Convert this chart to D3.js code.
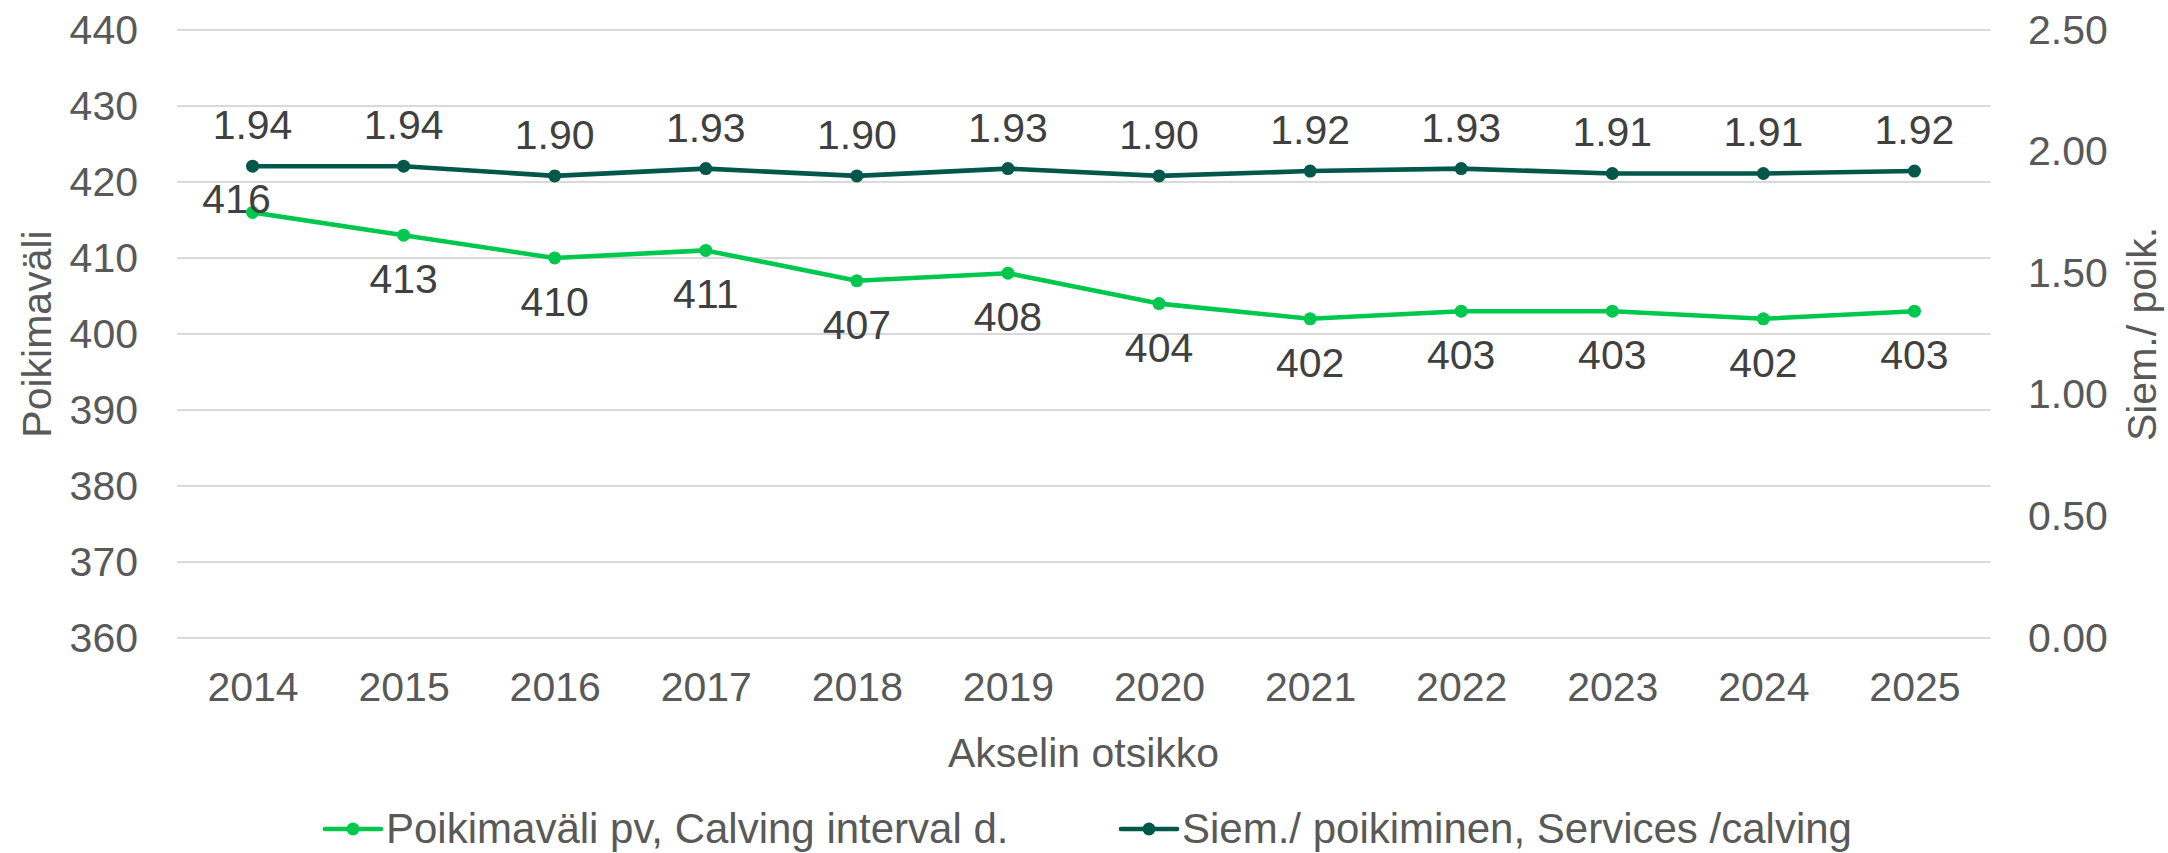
<!DOCTYPE html>
<html>
<head>
<meta charset="utf-8">
<script src="https://cdn.jsdelivr.net/npm/d3@7"></script>
<style>
  html, body { margin: 0; padding: 0; background: #fff; }
  svg { display: block; font-family: "Liberation Sans", Arial, sans-serif; }
</style>
</head>
<body>
<svg id="chart" width="2168" height="853"></svg>
<script>
// ---- data ----
const years = ["2014","2015","2016","2017","2018","2019","2020","2021","2022","2023","2024","2025"];
const calvingInterval = [416, 413, 410, 411, 407, 408, 404, 402, 403, 403, 402, 403];
const servicesPerCalving = [1.94, 1.94, 1.90, 1.93, 1.90, 1.93, 1.90, 1.92, 1.93, 1.91, 1.91, 1.92];
const leftTicks = [360, 370, 380, 390, 400, 410, 420, 430, 440];
const rightTicks = [0, 0.5, 1.0, 1.5, 2.0, 2.5];
const seriesNames = ["Poikimaväli pv, Calving interval d.", "Siem./ poikiminen, Services /calving"];
const xTitle = "Akselin otsikko";
const yLeftTitle = "Poikimaväli";
const yRightTitle = "Siem./ poik.";

// ---- style ----
const colLight = "#00C84F";
const colDark = "#00574A";
const axisText = "#595959";
const labelText = "#404040";
const gridCol = "#D9D9D9";
const fs = 41;

const svg = d3.select("#chart");
const plot = {left: 177, right: 1990, top: 30, bottom: 638};

const x = d3.scalePoint().domain(years).range([plot.left, plot.right]).padding(0.5);
const yL = d3.scaleLinear().domain([360, 440]).range([plot.bottom, plot.top]);
const yR = d3.scaleLinear().domain([0, 2.5]).range([plot.bottom, plot.top]);

// gridlines
svg.append("g").selectAll("line").data(leftTicks).join("line")
  .attr("x1", plot.left).attr("x2", plot.right)
  .attr("y1", d => yL(d)).attr("y2", d => yL(d))
  .attr("stroke", gridCol).attr("stroke-width", 2);

// left axis
const gL = svg.append("g").attr("transform", `translate(${plot.left},0)`)
  .call(d3.axisLeft(yL).tickValues(leftTicks).tickSize(0).tickPadding(39).tickFormat(d3.format("d")));
gL.select(".domain").remove();
gL.selectAll("text").attr("fill", axisText).style("font-size", fs + "px").style("font-family", "Liberation Sans, Arial, sans-serif");

// right axis
const gR = svg.append("g").attr("transform", `translate(${plot.right},0)`)
  .call(d3.axisRight(yR).tickValues(rightTicks).tickSize(0).tickPadding(38).tickFormat(d3.format(".2f")));
gR.select(".domain").remove();
gR.selectAll("text").attr("fill", axisText).style("font-size", fs + "px").style("font-family", "Liberation Sans, Arial, sans-serif");

// bottom axis
const gB = svg.append("g").attr("transform", `translate(0,${plot.bottom})`)
  .call(d3.axisBottom(x).tickSize(0).tickPadding(34));
gB.select(".domain").remove();
gB.selectAll("text").attr("fill", axisText).style("font-size", fs + "px").style("font-family", "Liberation Sans, Arial, sans-serif");

// axis titles
svg.append("text").attr("x", (plot.left + plot.right) / 2).attr("y", 767)
  .attr("text-anchor", "middle").attr("fill", axisText).style("font-size", fs + "px").text(xTitle);
svg.append("text").attr("transform", "translate(51,334) rotate(-90)")
  .attr("text-anchor", "middle").attr("fill", axisText).style("font-size", fs + "px").text(yLeftTitle);
svg.append("text").attr("transform", "translate(2156,334) rotate(-90)")
  .attr("text-anchor", "middle").attr("fill", axisText).style("font-size", fs + "px").text(yRightTitle);

// lines
function drawSeries(vals, yScale, color) {
  const line = d3.line().x((d, i) => x(years[i])).y(d => yScale(d));
  svg.append("path").datum(vals).attr("d", line)
    .attr("fill", "none").attr("stroke", color).attr("stroke-width", 4.6)
    .attr("stroke-linejoin", "round").attr("stroke-linecap", "round");
  svg.append("g").selectAll("circle").data(vals).join("circle")
    .attr("cx", (d, i) => x(years[i])).attr("cy", d => yScale(d))
    .attr("r", 6.5).attr("fill", color);
}
drawSeries(calvingInterval, yL, colLight);
drawSeries(servicesPerCalving, yR, colDark);

// data labels
svg.append("g").selectAll("text").data(servicesPerCalving).join("text")
  .attr("x", (d, i) => x(years[i])).attr("y", d => yR(d) - 27)
  .attr("text-anchor", "middle").attr("fill", labelText).style("font-size", fs + "px")
  .text(d => d3.format(".2f")(d));
svg.append("g").selectAll("text").data(calvingInterval).join("text")
  .attr("x", (d, i) => x(years[i]) + (i === 0 ? -16 : 0))
  .attr("y", (d, i) => i === 0 ? yL(d) + 1 : yL(d) + 58)
  .attr("text-anchor", "middle").attr("fill", labelText).style("font-size", fs + "px")
  .text(d => d);

// legend
const legendItems = [
  {name: seriesNames[0], color: colLight, x0: 325},
  {name: seriesNames[1], color: colDark, x0: 1121}
];
const ly = 829;
const lg = svg.append("g");
legendItems.forEach(it => {
  lg.append("line").attr("x1", it.x0).attr("x2", it.x0 + 56).attr("y1", ly).attr("y2", ly)
    .attr("stroke", it.color).attr("stroke-width", 4.6).attr("stroke-linecap", "round");
  lg.append("circle").attr("cx", it.x0 + 28).attr("cy", ly).attr("r", 6.5).attr("fill", it.color);
  lg.append("text").attr("x", it.x0 + 61).attr("y", ly + 14).attr("fill", axisText)
    .style("font-size", "42px").text(it.name);
});
</script>
</body>
</html>
